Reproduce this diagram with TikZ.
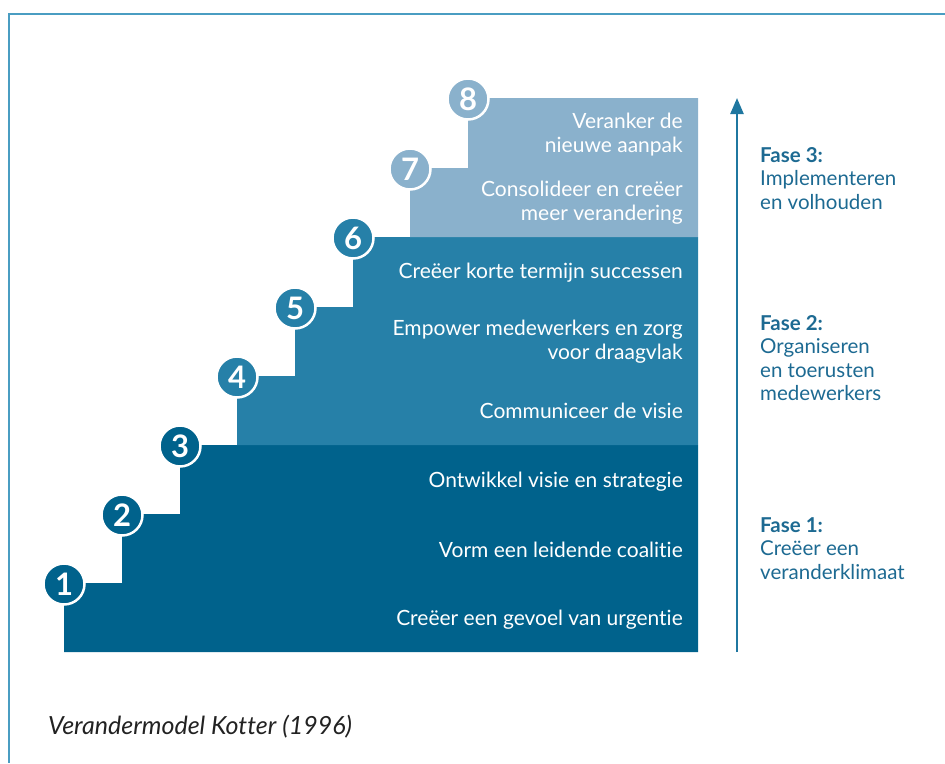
\documentclass[tikz,border=0pt]{standalone}
\usepackage{fontspec}
\setmainfont{Lato}[RawFeature={-liga,-dlig}]
\usetikzlibrary{arrows.meta}
\definecolor{pone}{HTML}{00628C}
\definecolor{ptwo}{HTML}{2680A8}
\definecolor{pthree}{HTML}{8AB1CC}
\definecolor{frame}{HTML}{4A9DC2}
\definecolor{arrowc}{HTML}{1F77A0}
\definecolor{fasec}{HTML}{1D6A92}
\definecolor{capc}{HTML}{222222}
\begin{document}
\begin{tikzpicture}[x=1pt,y=-1pt,
  steptext/.style={anchor=east,align=right,text=white,font=\fontsize{21}{24}\selectfont,inner sep=0pt},
  numcircle/.style={circle,draw=white,line width=2.5pt,minimum size=41pt,inner sep=0pt,text=white,font=\fontsize{31}{31}\selectfont\bfseries},
  fasetext/.style={anchor=north west,align=left,text=fasec,font=\fontsize{20.5}{23.5}\selectfont,inner sep=0pt}]
\useasboundingbox (0,0) rectangle (945,763);
% frame
\draw[frame,line width=2.4pt] (945,14) -- (9,14) -- (9,763);
% phase blocks
\fill[pone] (64,652) -- (64,583) -- (122,583) -- (122,514) -- (180,514) -- (180,445) -- (698,445) -- (698,652) -- cycle;
\fill[ptwo] (237,445) -- (237,376) -- (295,376) -- (295,307) -- (353,307) -- (353,237) -- (698,237) -- (698,445) -- cycle;
\fill[pthree] (410,237) -- (410,168) -- (468,168) -- (468,98) -- (698,98) -- (698,237) -- cycle;
% circles
\node[numcircle,fill=pone] (c1) at (64,584) {1};
\node[numcircle,fill=pone] (c2) at (122,515) {2};
\node[numcircle,fill=pone] (c3) at (180,446) {3};
\node[numcircle,fill=ptwo] (c4) at (237,377) {4};
\node[numcircle,fill=ptwo] (c5) at (295,308) {5};
\node[numcircle,fill=ptwo] (c6) at (353,238) {6};
\node[numcircle,fill=pthree] (c7) at (410,169) {7};
\node[numcircle,fill=pthree] (c8) at (468,99) {8};
% step texts
\node[steptext] (t8) at (683,135) {Veranker de\\nieuwe aanpak};
\node[steptext] (t7) at (683,203) {Consolideer en creëer\\meer verandering};
\node[steptext] (t6) at (683,273) {Creëer korte termijn successen};
\node[steptext] (t5) at (683,342) {Empower medewerkers en zorg\\voor draagvlak};
\node[steptext] (t4) at (683,411) {Communiceer de visie};
\node[steptext] (t3) at (683,482) {Ontwikkel visie en strategie};
\node[steptext] (t2) at (683,550) {Vorm een leidende coalitie};
\node[steptext] (t1) at (683,620) {Creëer een gevoel van urgentie};
% arrow
\coordinate (abot) at (737,652);
\coordinate (atop) at (737,98);
\draw[arrowc,line width=2.4pt,-{Triangle[length=16pt,width=13pt]}] (abot) -- (atop);
% phase labels
\node[fasetext] (f3) at (760,147) {\textbf{Fase 3:}\\Implementeren\\en volhouden};
\node[fasetext] (f2) at (760,315) {\textbf{Fase 2:}\\Organiseren\\en toerusten\\medewerkers};
\node[fasetext] (f1) at (760,517) {\textbf{Fase 1:}\\Creëer een\\veranderklimaat};
% caption
\node[anchor=west,inner sep=0pt,text=capc,font=\fontsize{25}{25}\selectfont\itshape] (cap) at (48,727) {Verandermodel Kotter (1996)};
\end{tikzpicture}
\end{document}
